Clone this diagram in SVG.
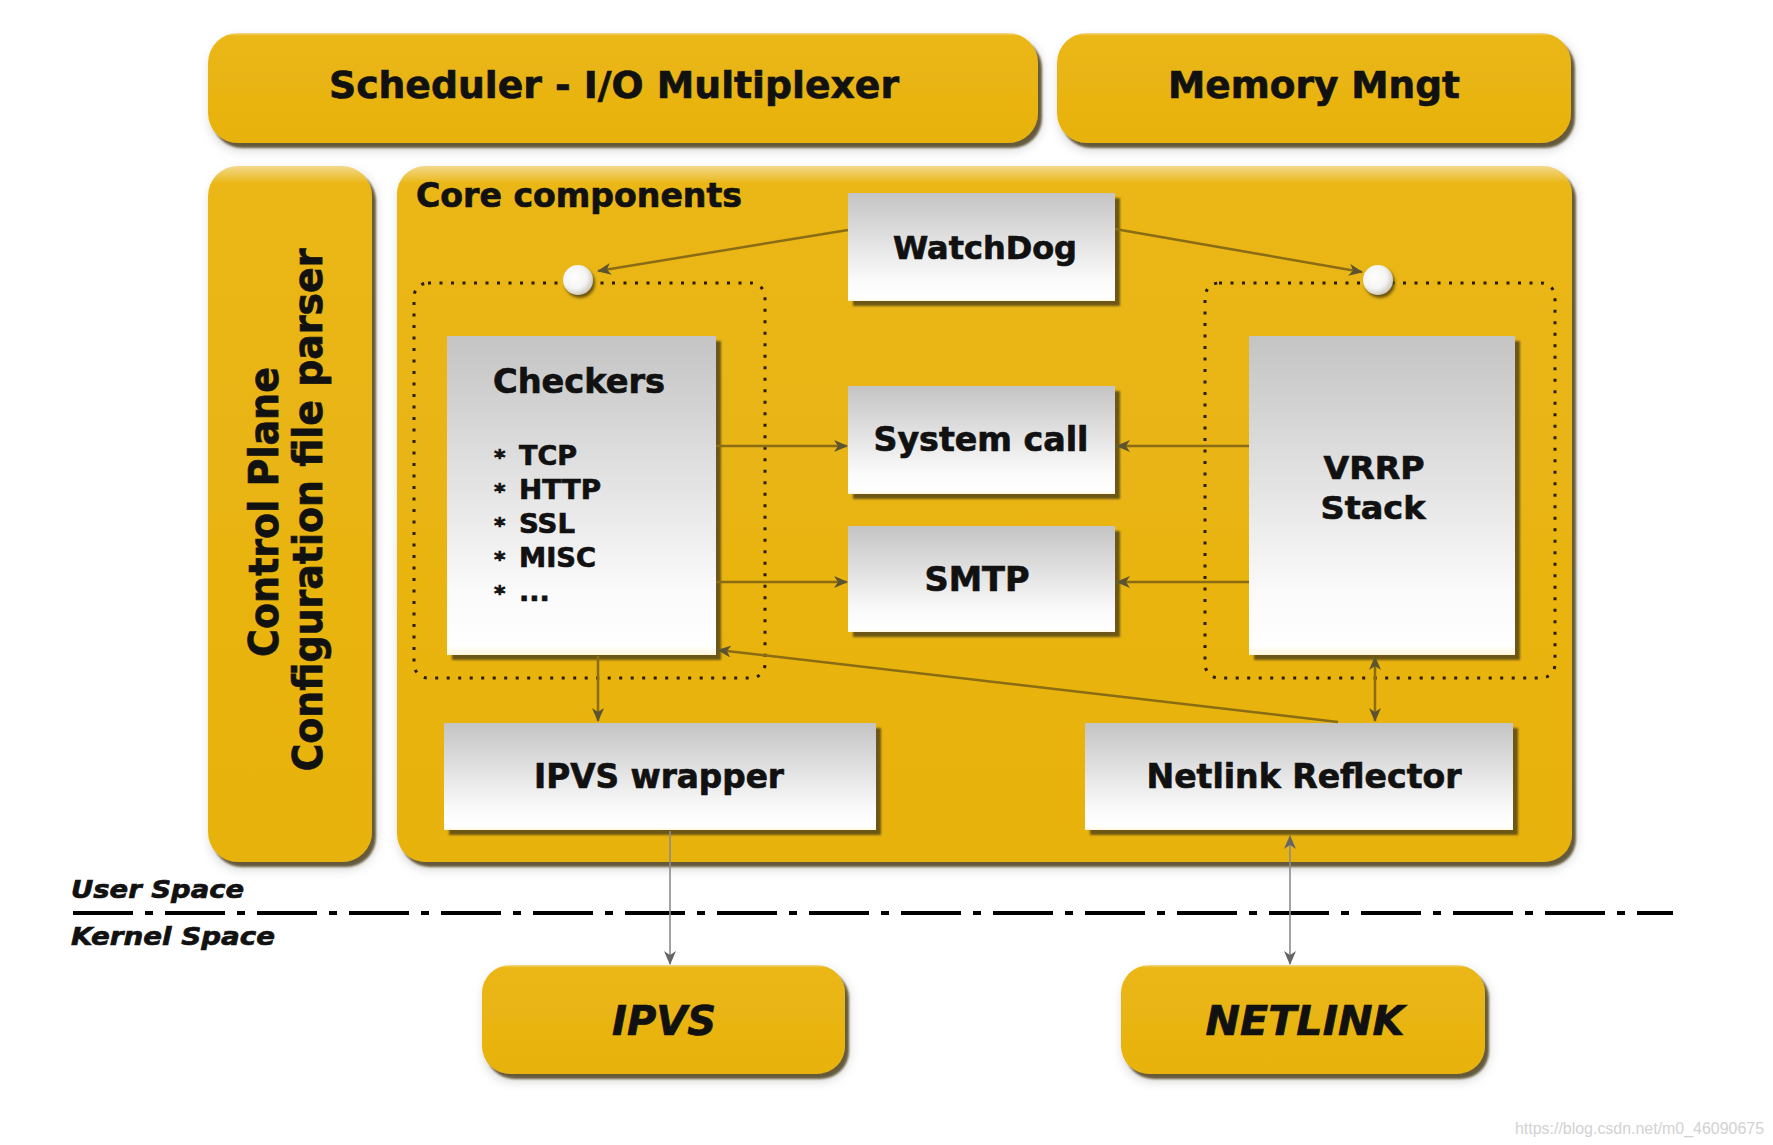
<svg xmlns="http://www.w3.org/2000/svg" width="1773" height="1145" viewBox="0 0 1773 1145">
<style>
.t{font-family:"DejaVu Sans","Verdana",sans-serif;font-weight:bold;fill:#111;stroke:#111;stroke-width:0.7}
.ti{font-family:"DejaVu Sans","Verdana",sans-serif;font-weight:bold;font-style:italic;fill:#111;stroke:#111;stroke-width:0.7}
.ybox{fill:url(#gY);filter:url(#shY)}
.gbox{fill:url(#gG);filter:url(#shG)}
.dot{fill:none;stroke:#2b1c00;stroke-width:3;stroke-dasharray:3 8.5;stroke-linecap:butt}
.c{fill:none;stroke:#8a6c14;stroke-width:2.5}
.cg{fill:none;stroke:#8c8c8c;stroke-width:1.6}
</style>
<defs>
<linearGradient id="gY" x1="0" y1="0" x2="0" y2="1">
<stop offset="0" stop-color="#f3d98c"/>
<stop offset="0.025" stop-color="#eab715"/>
<stop offset="1" stop-color="#e8b20e"/>
</linearGradient>
<linearGradient id="gG" x1="0" y1="0" x2="0" y2="1">
<stop offset="0" stop-color="#c4c4c4"/>
<stop offset="0.8" stop-color="#fafafa"/>
<stop offset="0.97" stop-color="#ffffff"/>
<stop offset="1" stop-color="#fff6dc"/>
</linearGradient>
<radialGradient id="gC" cx="0.4" cy="0.4" r="0.65">
<stop offset="0" stop-color="#ffffff"/>
<stop offset="0.6" stop-color="#f4f4f4"/>
<stop offset="1" stop-color="#c9c4b4"/>
</radialGradient>
<filter id="shY" x="-10%" y="-10%" width="125%" height="125%">
<feGaussianBlur in="SourceAlpha" stdDeviation="1.2" result="b"/>
<feOffset in="b" dx="4" dy="5" result="o"/>
<feFlood flood-color="#4f4220" flood-opacity="0.85"/>
<feComposite in2="o" operator="in" result="s"/>
<feGaussianBlur in="SourceAlpha" stdDeviation="6" result="b2"/>
<feOffset in="b2" dx="3" dy="6" result="o2"/>
<feFlood flood-color="#000" flood-opacity="0.2"/>
<feComposite in2="o2" operator="in" result="s2"/>
<feMerge><feMergeNode in="s2"/><feMergeNode in="s"/><feMergeNode in="SourceGraphic"/></feMerge>
</filter>
<filter id="shG" x="-10%" y="-10%" width="125%" height="125%">
<feGaussianBlur in="SourceAlpha" stdDeviation="1.3" result="b"/>
<feOffset in="b" dx="5" dy="5" result="o"/>
<feFlood flood-color="#5e4c14" flood-opacity="0.9"/>
<feComposite in2="o" operator="in" result="s"/>
<feMerge><feMergeNode in="s"/><feMergeNode in="SourceGraphic"/></feMerge>
</filter>
<filter id="shC" x="-50%" y="-50%" width="200%" height="200%">
<feGaussianBlur in="SourceAlpha" stdDeviation="1.5" result="b"/>
<feOffset in="b" dx="2" dy="3" result="o"/>
<feFlood flood-color="#4a3a0a" flood-opacity="0.8"/>
<feComposite in2="o" operator="in" result="s"/>
<feMerge><feMergeNode in="s"/><feMergeNode in="SourceGraphic"/></feMerge>
</filter>
<marker id="ah" viewBox="0 0 14 12" refX="13" refY="6" markerWidth="14" markerHeight="12" markerUnits="userSpaceOnUse" orient="auto-start-reverse">
<path d="M0,0 L14,6 L0,12 L4,6 z" fill="#5c5330"/>
</marker>
<marker id="ahg" viewBox="0 0 14 12" refX="13" refY="6" markerWidth="14" markerHeight="12" markerUnits="userSpaceOnUse" orient="auto-start-reverse">
<path d="M0,0 L14,6 L0,12 L4,6 z" fill="#666"/>
</marker>
</defs>
<rect width="1773" height="1145" fill="#fff"/>

<g id="scheduler">
<rect class="ybox" x="208" y="33" width="830" height="110" rx="30"/>
<text class="t" x="329" y="98" font-size="38" textLength="570" lengthAdjust="spacingAndGlyphs">Scheduler - I/O Multiplexer</text>
</g>
<g id="memory">
<rect class="ybox" x="1057" y="33" width="514" height="110" rx="30"/>
<text class="t" x="1314" y="98" font-size="38" text-anchor="middle" textLength="292" lengthAdjust="spacingAndGlyphs">Memory Mngt</text>
</g>
<g id="control-plane">
<rect class="ybox" x="208" y="166" width="164" height="696" rx="30"/>
<text class="t" transform="translate(278,512) rotate(-90)" font-size="40" text-anchor="middle" textLength="290" lengthAdjust="spacingAndGlyphs">Control Plane</text>
<text class="t" transform="translate(322,510) rotate(-90)" font-size="40" text-anchor="middle" textLength="523" lengthAdjust="spacingAndGlyphs">Configuration file parser</text>
</g>
<g id="core">
<rect class="ybox" x="397" y="166" width="1175" height="696" rx="28"/>
<text class="t" x="416" y="207" font-size="33" textLength="326" lengthAdjust="spacingAndGlyphs">Core components</text>
</g>
<g id="checkers-group">
<rect class="dot" x="414" y="283" width="351" height="395" rx="14"/>
<circle cx="578" cy="280" r="15" fill="url(#gC)" filter="url(#shC)"/>
</g>
<g id="vrrp-group">
<rect class="dot" x="1205" y="283" width="350" height="395" rx="14"/>
<circle cx="1378" cy="280" r="15" fill="url(#gC)" filter="url(#shC)"/>
</g>
<g id="watchdog">
<rect class="gbox" x="848" y="193" width="267" height="108"/>
<text class="t" x="985" y="259" font-size="32" text-anchor="middle" textLength="184" lengthAdjust="spacingAndGlyphs">WatchDog</text>
</g>
<g id="checkers">
<rect class="gbox" x="447" y="336" width="269" height="319"/>
<text class="t" x="493" y="393" font-size="33" textLength="172" lengthAdjust="spacingAndGlyphs">Checkers</text>
<g class="t" font-size="27">
<text x="494" y="465" font-size="22">*</text><text x="519" y="465" textLength="58" lengthAdjust="spacingAndGlyphs">TCP</text>
<text x="494" y="499" font-size="22">*</text><text x="519" y="499" textLength="82" lengthAdjust="spacingAndGlyphs">HTTP</text>
<text x="494" y="533" font-size="22">*</text><text x="519" y="533" textLength="56" lengthAdjust="spacingAndGlyphs">SSL</text>
<text x="494" y="567" font-size="22">*</text><text x="519" y="567" textLength="77" lengthAdjust="spacingAndGlyphs">MISC</text>
<text x="494" y="601" font-size="22">*</text><text x="519" y="601">...</text>
</g>
</g>
<g id="system-call">
<rect class="gbox" x="848" y="386" width="267" height="108"/>
<text class="t" x="981" y="451" font-size="33" text-anchor="middle" textLength="215" lengthAdjust="spacingAndGlyphs">System call</text>
</g>
<g id="smtp">
<rect class="gbox" x="848" y="526" width="267" height="106"/>
<text class="t" x="977" y="591" font-size="33" text-anchor="middle" textLength="105" lengthAdjust="spacingAndGlyphs">SMTP</text>
</g>
<g id="vrrp">
<rect class="gbox" x="1249" y="336" width="266" height="319"/>
<text class="t" x="1374" y="479" font-size="32" text-anchor="middle" textLength="101" lengthAdjust="spacingAndGlyphs">VRRP</text>
<text class="t" x="1373" y="519" font-size="32" text-anchor="middle" textLength="105" lengthAdjust="spacingAndGlyphs">Stack</text>
</g>
<g id="ipvs-wrapper">
<rect class="gbox" x="444" y="723" width="432" height="107"/>
<text class="t" x="659" y="788" font-size="33" text-anchor="middle" textLength="250" lengthAdjust="spacingAndGlyphs">IPVS wrapper</text>
</g>
<g id="netlink-reflector">
<rect class="gbox" x="1085" y="723" width="428" height="107"/>
<text class="t" x="1304" y="788" font-size="33" text-anchor="middle" textLength="315" lengthAdjust="spacingAndGlyphs">Netlink Reflector</text>
</g>
<g id="ipvs">
<rect class="ybox" x="482" y="965" width="363" height="109" rx="28"/>
<text class="ti" x="664" y="1035" font-size="40" text-anchor="middle" textLength="104" lengthAdjust="spacingAndGlyphs">IPVS</text>
</g>
<g id="netlink">
<rect class="ybox" x="1121" y="965" width="364" height="109" rx="28"/>
<text class="ti" x="1305" y="1035" font-size="40" text-anchor="middle" textLength="199" lengthAdjust="spacingAndGlyphs">NETLINK</text>
</g>
<g id="space-divider">
<line x1="73" y1="913" x2="1673" y2="913" stroke="#000" stroke-width="4" stroke-dasharray="60 12 8 12"/>
<text class="ti" x="71" y="898" font-size="25" textLength="173" lengthAdjust="spacingAndGlyphs">User Space</text>
<text class="ti" x="71" y="945" font-size="25" textLength="204" lengthAdjust="spacingAndGlyphs">Kernel Space</text>
</g>
<g id="connectors">
<line class="c" x1="848" y1="230" x2="598" y2="271" marker-end="url(#ah)"/>
<line class="c" x1="1115" y1="229" x2="1362" y2="272" marker-end="url(#ah)"/>
<line class="c" x1="716" y1="446" x2="847" y2="446" marker-end="url(#ah)"/>
<line class="c" x1="716" y1="582" x2="847" y2="582" marker-end="url(#ah)"/>
<line class="c" x1="1249" y1="446" x2="1117" y2="446" marker-end="url(#ah)"/>
<line class="c" x1="1249" y1="582" x2="1117" y2="582" marker-end="url(#ah)"/>
<line class="c" x1="1338" y1="722" x2="718" y2="650" marker-end="url(#ah)"/>
<line class="c" x1="1375" y1="657" x2="1375" y2="721" marker-start="url(#ah)" marker-end="url(#ah)"/>
<line class="c" x1="598" y1="656" x2="598" y2="721" marker-end="url(#ah)"/>
<line class="cg" x1="670" y1="831" x2="670" y2="964" marker-end="url(#ahg)"/>
<line class="cg" x1="1290" y1="836" x2="1290" y2="964" marker-start="url(#ahg)" marker-end="url(#ahg)"/>
</g>
<text x="1515" y="1134" font-family="Liberation Sans, Arial, sans-serif" font-size="16" fill="#d2d2d2" textLength="249" lengthAdjust="spacingAndGlyphs">https://blog.csdn.net/m0_46090675</text>
</svg>
